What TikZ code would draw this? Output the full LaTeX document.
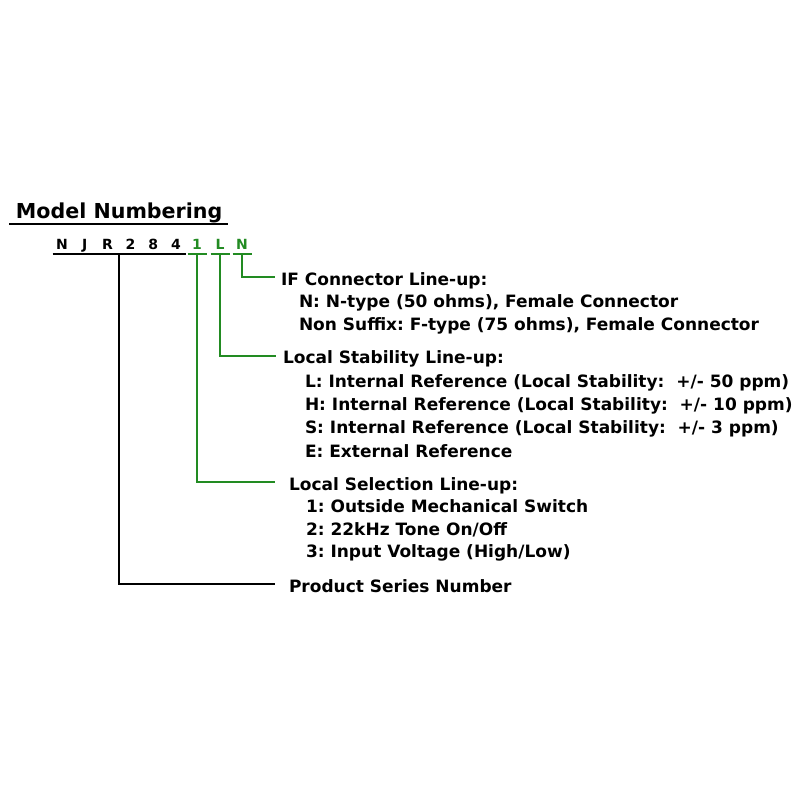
\documentclass[tikz,border=0pt]{standalone}
\usepackage{fontspec}
\setmainfont{DejaVu Sans}
\usetikzlibrary{calc}
\frenchspacing

\definecolor{lineupgreen}{RGB}{34,139,34}

\tikzset{
  txt/.style={anchor=base west, inner sep=0pt, font=\fontsize{17}{20}\selectfont\bfseries},
  codeltr/.style={anchor=base, inner sep=0pt, minimum width=17pt, text depth=4pt, font=\fontsize{14}{16}\selectfont\bfseries},
  gline/.style={draw=lineupgreen, line width=2pt}
}

\begin{document}
\begin{tikzpicture}[x=1pt, y=-1pt, draw=black, line width=2pt]
\useasboundingbox (0,0) rectangle (800,800);

\node[anchor=base west, inner sep=0pt, font=\fontsize{20.6}{24}\selectfont\bfseries] (title) at (15,218) {Model Numbering};
\draw [line width=2.5pt] (9,224) -- (228,224);% title underline

% model code
\foreach \ch [count=\i] in {N,J,R,2,8,4}
  \node[codeltr] (c\i) at ({62+22.8*(\i-1)},249) {\ch};
\node[codeltr, text=lineupgreen] (c7) at (197,249) {1};
\node[codeltr, text=lineupgreen] (c8) at (220,249) {L};
\node[codeltr, text=lineupgreen] (c9) at (242,249) {N};
\draw (c1.south west) -- (c6.south east);
\draw [gline] (c7.south west) -- (c7.south east);
\draw [gline] (c8.south west) -- (c8.south east);
\draw [gline] (c9.south west) -- (c9.south east);

\node[txt] (ifhead) at (280,285) {IF Connector Line-up:};
\node[txt] (ifn) at (298,307) {N: N-type (50 ohms), Female Connector};
\node[txt] (ifnon) at (298,330) {Non Suffix: F-type (75 ohms), Female Connector};

\node[txt] (stabhead) at (282,363) {Local Stability Line-up:};
\node[txt] (stabl) at (304,387) {L: Internal Reference (Local Stability:~ +/- 50 ppm)};
\node[txt] (stabh) at (304,410) {H: Internal Reference (Local Stability:~ +/- 10 ppm)};
\node[txt] (stabs) at (304,433) {S: Internal Reference (Local Stability:~ +/- 3 ppm)};
\node[txt] (stabe) at (304,457) {E: External Reference};

\node[txt] (selhead) at (288,490) {Local Selection Line-up:};
\node[txt] (selone) at (305,512) {1: Outside Mechanical Switch};
\node[txt] (seltwo) at (305,535) {2: 22kHz Tone On/Off};
\node[txt] (selthree) at (305,557) {3: Input Voltage (High/Low)};

\node[txt] (series) at (288,592) {Product Series Number};

% leader lines
\draw [gline] (c9.south) |- ([xshift=-5pt,yshift=8pt]ifhead.base west);
\draw [gline] (c8.south) |- ([xshift=-6pt,yshift=7pt]stabhead.base west);
\draw [gline] (c7.south) |- ([xshift=-13pt,yshift=8pt]selhead.base west);
\draw ($(c3.south)!0.5!(c4.south)$) |- ([xshift=-13pt,yshift=8pt]series.base west);
\end{tikzpicture}
\end{document}
